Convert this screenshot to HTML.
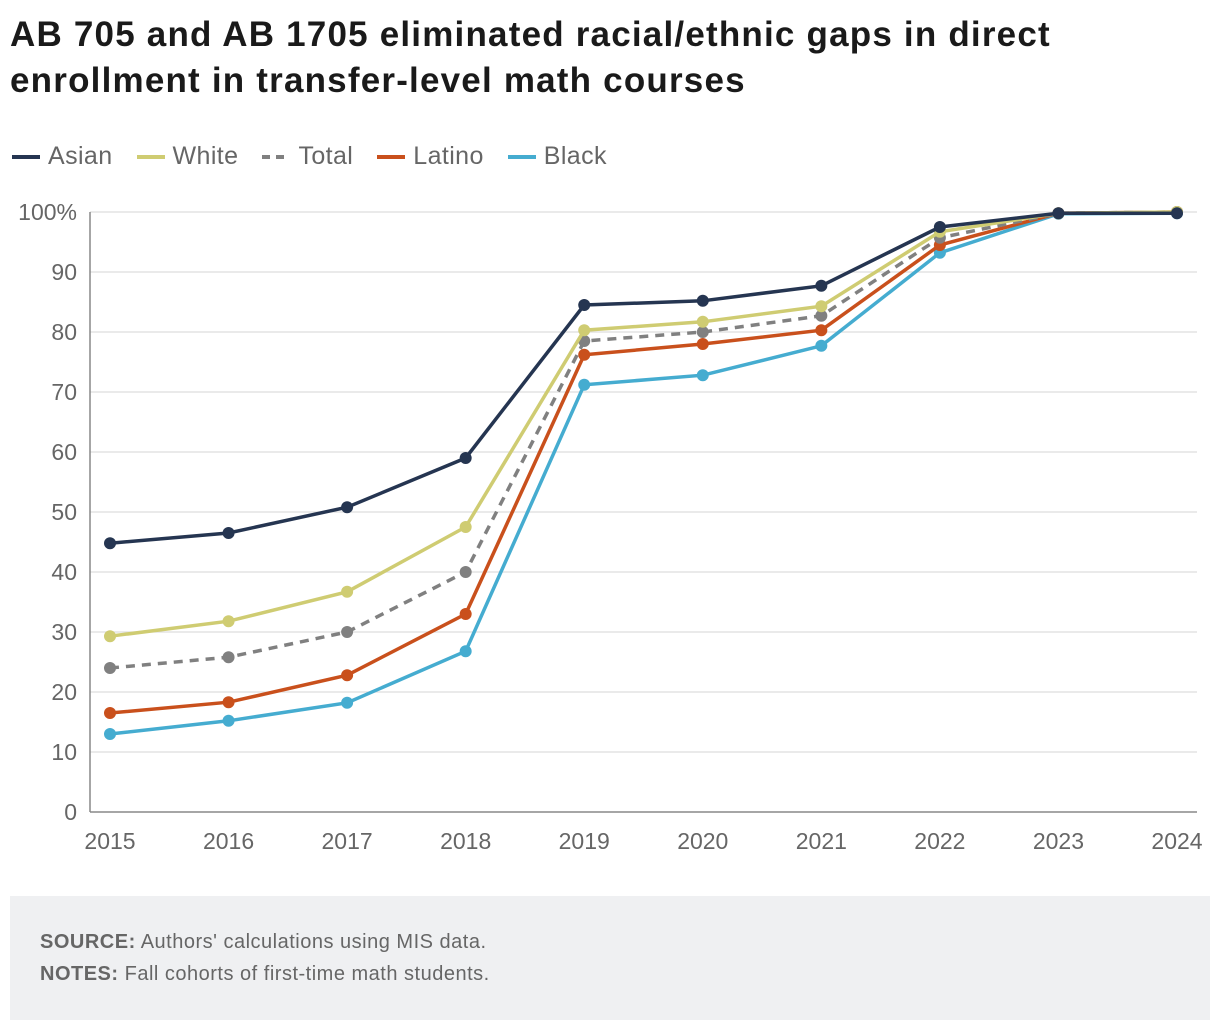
<!DOCTYPE html>
<html><head><meta charset="utf-8"><style>
body{margin:0;background:#fff;width:1220px;height:1030px;overflow:hidden;font-family:"Liberation Sans",sans-serif}
h1{position:absolute;left:10px;top:12px;margin:0;font-size:35px;line-height:46px;font-weight:bold;color:#1a1a1a;width:1210px;letter-spacing:1.2px;white-space:nowrap}
.legend{position:absolute;left:12px;top:142px;font-size:25px;color:#666;display:flex;letter-spacing:0.4px}
.li{display:flex;align-items:center;margin-right:24px}
.sw{width:28px;height:4px;margin-right:8px}
.foot{position:absolute;left:10px;top:896px;width:1200px;height:124px;background:#eff0f2;font-size:20px;color:#666;letter-spacing:0.5px}
.foot p{margin:0;position:absolute;left:30px}
</style></head><body>
<h1>AB 705 and AB 1705 eliminated racial/ethnic gaps in direct<br>enrollment in transfer-level math courses</h1>
<div class="legend">
<div class="li"><span class="sw" style="background:#253551"></span>Asian</div>
<div class="li"><span class="sw" style="background:#cfcc72"></span>White</div>
<div class="li"><span class="sw" style="background:repeating-linear-gradient(90deg,#808080 0 8px,transparent 8px 14px)"></span>Total</div>
<div class="li"><span class="sw" style="background:#c9501c"></span>Latino</div>
<div class="li"><span class="sw" style="background:#45acd0"></span>Black</div>
</div>
<svg id="chart" width="1220" height="880" style="position:absolute;left:0;top:0"></svg>
<div class="foot">
<p style="top:35px"><b>SOURCE:</b> Authors' calculations using MIS data.</p>
<p style="top:67px"><b>NOTES:</b> Fall cohorts of first-time math students.</p>
</div>
<script>
const years=[2015,2016,2017,2018,2019,2020,2021,2022,2023,2024];
const yTicks=[0,10,20,30,40,50,60,70,80,90,100];
const asian=[44.8,46.5,50.8,59,84.5,85.2,87.7,97.5,99.8,99.8];
const white=[29.3,31.8,36.7,47.5,80.3,81.7,84.3,96.7,99.8,100];
const total=[24,25.8,30,40,78.5,80,82.7,95.7,99.8,100];
const latino=[16.5,18.3,22.8,33,76.2,78,80.3,94.5,99.8,100];
const black=[13,15.2,18.2,26.8,71.2,72.8,77.7,93.2,99.7,99.8];
const svg=document.getElementById('chart');const NS='http://www.w3.org/2000/svg';
const x=i=>110+i*(1177-110)/(years.length-1);
const y=v=>812-v*6;
function mk(t,a){const e=document.createElementNS(NS,t);for(const k in a)e.setAttribute(k,a[k]);svg.appendChild(e);return e;}
yTicks.forEach(t=>{
 const g=mk('line',{x1:90,x2:1197,y1:y(t),y2:y(t),stroke:t===0?'#888':'#ddd','stroke-width':t===0?1.5:1.2});
 
 
 const l=mk('text',{x:77,y:y(t)+8,'text-anchor':'end','font-size':23,fill:'#666','font-family':'Liberation Sans, sans-serif'});
 l.textContent=t===100?'100%':t;
 
 
});
const ax=mk('line',{x1:90,x2:90,y1:212,y2:812,stroke:'#888','stroke-width':1.5});


years.forEach((yr,i)=>{
 const l=mk('text',{x:x(i),y:849,'text-anchor':'middle','font-size':23,fill:'#666','font-family':'Liberation Sans, sans-serif'});
 l.textContent=yr;
 
 
});
const series=[['black',black,'#45acd0',false],['latino',latino,'#c9501c',false],['total',total,'#808080',true],['white',white,'#cfcc72',false],['asian',asian,'#253551',false]];
series.forEach(([n,d,c,dash])=>{
 const p=mk('polyline',{points:d.map((v,i)=>x(i)+','+y(v)).join(' '),fill:'none',stroke:c,'stroke-width':3.5,'stroke-dasharray':dash?'9 7':'none'});
 
 
 d.forEach((v,i)=>{
  const ci=mk('circle',{cx:x(i),cy:y(v),r:6,fill:c});
  
  
 });
});
</script>
</body></html>
